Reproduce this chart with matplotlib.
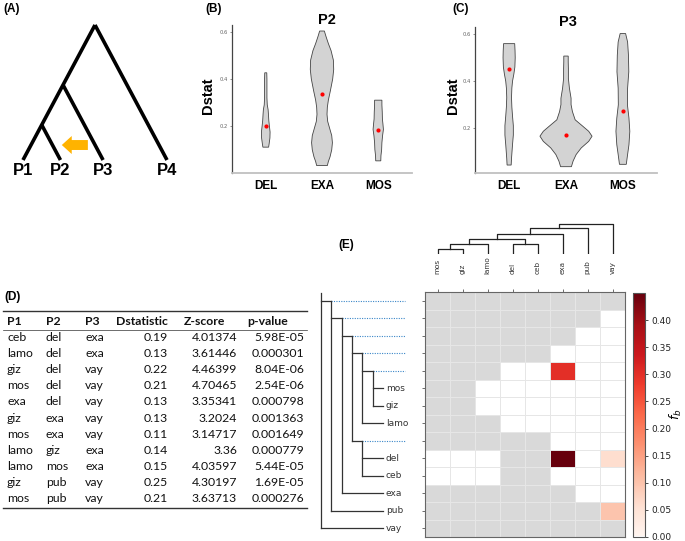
import numpy as np
import matplotlib
matplotlib.use('Agg')
import matplotlib.pyplot as plt
from matplotlib.patches import FancyArrowPatch
from matplotlib.colors import ListedColormap

# ------------------------------------------------------------------ data
# Panel A: schematic four-taxon tree (P1,P2),P3),P4 with node depths
a_taxa = ['P1', 'P2', 'P3', 'P4']
a_depth_p123 = 0.444
a_depth_p12 = 0.74
a_arrow_depth = 0.889

# Panels B, C: violin outlines (Dstat level, half width in category units)
violin_cats = ['DEL', 'EXA', 'MOS']
b_del_y = [0.111, 0.125, 0.15, 0.175, 0.20, 0.225, 0.25, 0.27, 0.29, 0.32, 0.36, 0.40, 0.426]
b_del_w = [0.051, 0.060, 0.074, 0.077, 0.065, 0.054, 0.048, 0.042, 0.027, 0.021, 0.021, 0.021, 0.018]
b_exa_y = [0.033, 0.05, 0.07, 0.10, 0.13, 0.16, 0.19, 0.22, 0.25, 0.28, 0.31, 0.35, 0.40, 0.44, 0.48, 0.52, 0.55, 0.58, 0.603]
b_exa_w = [0.095, 0.113, 0.143, 0.173, 0.185, 0.173, 0.137, 0.101, 0.089, 0.095, 0.113, 0.149, 0.190, 0.208, 0.202, 0.161, 0.113, 0.071, 0.042]
b_mos_y = [0.053, 0.075, 0.10, 0.13, 0.16, 0.186, 0.21, 0.23, 0.26, 0.29, 0.31]
b_mos_w = [0.045, 0.048, 0.060, 0.065, 0.077, 0.092, 0.083, 0.074, 0.071, 0.065, 0.065]
b_means = [0.199, 0.337, 0.183]

c_del_y = [0.042, 0.07, 0.10, 0.13, 0.17, 0.21, 0.25, 0.29, 0.33, 0.37, 0.40, 0.43, 0.46, 0.50, 0.53, 0.56]
c_del_w = [0.036, 0.042, 0.051, 0.060, 0.074, 0.074, 0.060, 0.048, 0.042, 0.048, 0.060, 0.083, 0.101, 0.107, 0.104, 0.098]
c_exa_y = [0.035, 0.059, 0.087, 0.115, 0.143, 0.165, 0.186, 0.207, 0.235, 0.27, 0.30, 0.327, 0.37, 0.412, 0.454, 0.483, 0.507]
c_exa_w = [0.095, 0.125, 0.179, 0.268, 0.399, 0.458, 0.399, 0.298, 0.161, 0.113, 0.089, 0.089, 0.060, 0.042, 0.042, 0.039, 0.039]
c_mos_y = [0.045, 0.087, 0.129, 0.186, 0.242, 0.299, 0.37, 0.44, 0.511, 0.567, 0.603]
c_mos_w = [0.060, 0.083, 0.107, 0.122, 0.107, 0.080, 0.083, 0.104, 0.098, 0.083, 0.048]
c_means = [0.452, 0.172, 0.272]
dstat_ticks = [0.2, 0.4, 0.6]

# Panel D: table
tbl_header = ['P1', 'P2', 'P3', 'Dstatistic', 'Z-score', 'p-value']
tbl_p1 = ['ceb', 'lamo', 'giz', 'mos', 'exa', 'giz', 'mos', 'lamo', 'lamo', 'giz', 'mos']
tbl_p2 = ['del', 'del', 'del', 'del', 'del', 'exa', 'exa', 'giz', 'mos', 'pub', 'pub']
tbl_p3 = ['exa', 'exa', 'vay', 'vay', 'vay', 'vay', 'vay', 'exa', 'exa', 'vay', 'vay']
tbl_d = ['0.19', '0.13', '0.22', '0.21', '0.13', '0.13', '0.11', '0.14', '0.15', '0.25', '0.21']
tbl_z = ['4.01374', '3.61446', '4.46399', '4.70465', '3.35341', '3.2024', '3.14717', '3.36', '4.03597', '4.30197', '3.63713']
tbl_p = ['5.98E-05', '0.000301', '8.04E-06', '2.54E-06', '0.000798', '0.001363', '0.001649', '0.000779', '5.44E-05', '1.69E-05', '0.000276']

# Panel E: f-branch heatmap
fb_cols = ['mos', 'giz', 'lamo', 'del', 'ceb', 'exa', 'pub', 'vay']
fb_tree = ((((((('mos', 'giz'), 'lamo'), ('del', 'ceb')), 'exa'), 'pub'), 'vay'))
N = np.nan
fb_values = [
    [N, N, N, N, N, N, N, N],
    [N, N, N, N, N, N, N, 0],
    [N, N, N, N, N, N, 0, 0],
    [N, N, N, N, N, 0, 0, 0],
    [N, N, N, 0, 0, 0.30, 0, 0],
    [N, N, 0, 0, 0, 0, 0, 0],
    [N, N, 0, 0, 0, 0, 0, 0],
    [N, N, N, 0, 0, 0, 0, 0],
    [N, N, N, N, N, 0, 0, 0],
    [0, 0, 0, N, N, 0.45, 0, 0.06],
    [0, 0, 0, N, N, 0, 0, 0],
    [N, N, N, N, N, N, 0, 0],
    [N, N, N, N, N, N, N, 0.10],
    [N, N, N, N, N, N, N, N],
]
top_links = [('mos', 'giz', 'A', 1.0), ('A', 'lamo', 'B', 2.0), ('del', 'ceb', 'C', 2.0),
             ('B', 'C', 'D', 3.0), ('D', 'exa', 'E', 4.0), ('E', 'pub', 'F', 5.2),
             ('F', 'vay', 'G', 6.0)]
cbar_ticks = [0.00, 0.05, 0.10, 0.15, 0.20, 0.25, 0.30, 0.35, 0.40]

# ------------------------------------------------------------------ figure
W, H = 685, 541
fig = plt.figure(figsize=(W / 100, H / 100), dpi=100)
BOLD = dict(family='Liberation Sans', fontweight='bold')


def px_axes(l, t, r, b):
    return fig.add_axes([l / W, 1 - b / H, (r - l) / W, (b - t) / H])


def ptext(x, y, s, **kw):
    fig.text(x / W, 1 - y / H, s, **kw)


# ---------------- Panel A
ptext(3, 9, '(A)', fontsize=8.5, va='center', ha='left', **BOLD)
axA = px_axes(0, 0, 200, 200)
axA.set_xlim(-95 / 72, 105 / 72)
axA.set_ylim(175 / 135, -25 / 135)
axA.axis('off')
lwA = 2.6
axA.plot([0, -1], [0, 1], color='black', lw=lwA, solid_capstyle='butt')
axA.plot([0, 1], [0, 1], color='black', lw=lwA, solid_capstyle='butt')
p3_x = -a_depth_p123 + (1 - a_depth_p123)
p2_x = -a_depth_p12 + (1 - a_depth_p12)
axA.plot([-a_depth_p123, p3_x], [a_depth_p123, 1], color='black', lw=lwA, solid_capstyle='butt')
axA.plot([-a_depth_p12, p2_x], [a_depth_p12, 1], color='black', lw=lwA, solid_capstyle='butt')
for name, x in zip(a_taxa, [-1, p2_x, p3_x, 1]):
    axA.text(x, 1.075, name, ha='center', va='center', fontsize=12, **BOLD)
ar3 = -a_depth_p123 + (a_arrow_depth - a_depth_p123)
ar2 = -a_depth_p12 + (a_arrow_depth - a_depth_p12)
gap = 0.1
arr = FancyArrowPatch((ar3 - gap, a_arrow_depth), (ar2 + gap * 1.3, a_arrow_depth),
                      arrowstyle='simple,head_length=0.55,head_width=1.0,tail_width=0.55',
                      mutation_scale=13, color='#FFB300', shrinkA=0, shrinkB=0, lw=0)
axA.add_patch(arr)


# ---------------- Panels B and C
def violin_panel(box, title, data, means, ylim, lab, labpos, titlepos, ylabx):
    ax = px_axes(*box)
    for i, (ys, ws) in enumerate(data):
        xc = i + 1
        ys = np.asarray(ys)
        ws = np.asarray(ws)
        xs = np.concatenate([xc - ws, (xc + ws)[::-1]])
        yy = np.concatenate([ys, ys[::-1]])
        ax.fill(xs, yy, facecolor='#D3D3D3', edgecolor='#444444', lw=0.6, zorder=2)
    ax.scatter([1, 2, 3], means, s=9, color='red', zorder=3, linewidths=0)
    ax.set_xlim(0.4, 3.6)
    ax.set_ylim(*ylim)
    ax.set_xticks([1, 2, 3])
    ax.set_xticklabels(violin_cats, fontsize=8.5, **BOLD)
    ax.tick_params(axis='x', length=0, pad=5)
    ax.set_yticks(dstat_ticks)
    ax.set_yticklabels([f'{t:.1f}' for t in dstat_ticks], fontsize=3.8, color='#666666')
    ax.tick_params(axis='y', length=1.5, width=0.5, color='#666666', pad=1.5)
    for s in ['top', 'right']:
        ax.spines[s].set_visible(False)
    ax.spines['left'].set_color('#444444')
    ax.spines['left'].set_linewidth(0.9)
    ax.spines['bottom'].set_color('#c0c0c0')
    ax.spines['bottom'].set_linewidth(1.3)
    ax.patch.set_alpha(0)
    ptext(titlepos[0], titlepos[1], title, fontsize=10.5, ha='center', va='center', **BOLD)
    ptext(ylabx, 96, 'Dstat', fontsize=10.5, ha='center', va='center', rotation=90, **BOLD)
    ptext(labpos[0], labpos[1], lab, fontsize=8.5, ha='left', va='center', **BOLD)
    return ax


violin_panel((232, 25, 412, 173), 'P2',
             [(b_del_y, b_del_w), (b_exa_y, b_exa_w), (b_mos_y, b_mos_w)], b_means,
             (0.0015, 0.6285), '(B)', (205, 9), (327, 19.5), 208)
violin_panel((475, 27, 657, 173), 'P3',
             [(c_del_y, c_del_w), (c_exa_y, c_exa_w), (c_mos_y, c_mos_w)], c_means,
             (0.008, 0.631), '(C)', (452, 9), (568, 22), 453)

# ---------------- Panel D (table)
ptext(4, 297, '(D)', fontsize=8.5, ha='left', va='center', **BOLD)
axD = px_axes(0, 290, 320, 520)
axD.set_xlim(0, 320)
axD.set_ylim(520, 290)
axD.axis('off')
TF = dict(family='Lato', fontsize=8.8, va='center', color='#111111')
y_head = 321.5
row_step = 16.1
y_first = 337.5
axD.plot([3, 307], [310.5, 310.5], color='#333333', lw=1.0)
axD.plot([3, 307], [329.5, 329.5], color='#333333', lw=0.5)
n_rows = len(tbl_p1)
y_bot = y_first + row_step * (n_rows - 1) + 9
axD.plot([3, 307], [y_bot, y_bot], color='#333333', lw=1.0)
col_left = [7, 46, 85]
num_right = [168, 237, 304]
head_left = [None, None, None, None, 184, 247]
for j, h in enumerate(tbl_header):
    if j < 3:
        axD.text(col_left[j], y_head, h, ha='left', fontweight='bold', **TF)
    elif j == 3:
        axD.text(num_right[0], y_head, h, ha='right', fontweight='bold', **TF)
    else:
        axD.text(head_left[j], y_head, h, ha='left', fontweight='bold', **TF)
for i in range(n_rows):
    y = y_first + row_step * i
    for j, col in enumerate([tbl_p1, tbl_p2, tbl_p3]):
        axD.text(col_left[j], y, col[i], ha='left', **TF)
    for j, col in enumerate([tbl_d, tbl_z, tbl_p]):
        axD.text(num_right[j], y, col[i], ha='right', **TF)

# ---------------- Panel E
ptext(338, 245, '(E)', fontsize=8.5, ha='left', va='center', **BOLD)
vals = np.array(fb_values, dtype=float)
nr, nc = vals.shape
vmax = np.nanmax(vals)

reds = plt.cm.Reds(np.linspace(0, 1, 256))
reds[0] = [1, 1, 1, 1]
cmap_fb = ListedColormap(reds)

axE = px_axes(425, 292, 625, 537)
grey_layer = np.where(np.isnan(vals), 1.0, np.nan)
axE.pcolormesh(np.arange(nc + 1), np.arange(nr + 1), np.ma.masked_invalid(grey_layer),
               cmap=ListedColormap(['#d9d9d9']), edgecolors='#a6a6a6', linewidth=0.7)
mesh = axE.pcolormesh(np.arange(nc + 1), np.arange(nr + 1), np.ma.masked_invalid(vals),
                      cmap=cmap_fb, vmin=0, vmax=vmax, edgecolors='#e6e6e6', linewidth=0.7)
axE.set_xlim(0, nc)
axE.set_ylim(nr, 0)
axE.xaxis.tick_top()
axE.set_xticks(np.arange(nc) + 0.5)
axE.set_xticklabels(fb_cols, rotation=90, fontsize=5.2, color='#333333')
axE.set_yticks(np.arange(nr) + 0.5)
axE.set_yticklabels([])
axE.tick_params(axis='x', length=2, width=0.5, pad=11, colors='#333333')
axE.tick_params(axis='y', length=2, width=0.5, colors='#333333')
for s in axE.spines.values():
    s.set_color('#666666')
    s.set_linewidth(0.8)

# colorbar
cax = px_axes(633, 293, 645, 537)
cb = fig.colorbar(mesh, cax=cax, ticks=cbar_ticks)
cb.ax.set_yticklabels([f'{t:.2f}' for t in cbar_ticks], fontsize=6.5, color='#222222')
cb.ax.tick_params(length=2.5, width=0.5, pad=2)
cb.outline.set_edgecolor('#555555')
cb.outline.set_linewidth(0.8)
ptext(676, 414, '$f_b$', fontsize=9, rotation=90, ha='center', va='center')

# left tree (rows: pre-order of internal nodes + leaves)
axT = px_axes(315, 292, 425, 537)
unit = 10.3
axT.set_xlim(-6 / unit, 104 / unit)
axT.set_ylim(nr, 0)
axT.axis('off')
leaf_depth = 6.0
dot_end = 84 / unit
row_counter = [0]
tree_col = '#333333'


def draw_node(node, depth, parent_depth, is_root=False):
    if isinstance(node, str):
        r = row_counter[0] + 0.5
        row_counter[0] += 1
        axT.plot([parent_depth, leaf_depth], [r, r], color=tree_col, lw=0.9)
        axT.text(leaf_depth + 0.3, r, node, fontsize=6.5, color='#333333', va='center', ha='left')
        return r
    if is_root:
        rows = [draw_node(ch, depth + 1, depth) for ch in node]
        first = rows[0]
        axT.plot([depth, depth], [first - 0.45, rows[-1]], color=tree_col, lw=0.9)
        return first
    r = row_counter[0] + 0.5
    row_counter[0] += 1
    axT.plot([parent_depth, depth], [r, r], color=tree_col, lw=0.9)
    axT.plot([depth, dot_end], [r, r], color='#3a86c8', lw=0.8, ls=(0, (1, 1.2)))
    rows = [draw_node(ch, depth + 1, depth) for ch in node]
    axT.plot([depth, depth], [r, rows[-1]], color=tree_col, lw=0.9)
    return r


draw_node(fb_tree, 0.0, 0.0, is_root=True)

# top dendrogram
axD2 = px_axes(425, 218, 625, 254)
axD2.set_xlim(0, nc)
axD2.set_ylim(0, 7.2)
axD2.axis('off')
pos = {name: (i + 0.5, 0.0) for i, name in enumerate(fb_cols)}
for a, b, new, h in top_links:
    xa, ha = pos[a]
    xb, hb = pos[b]
    axD2.plot([xa, xa, xb, xb], [ha, h, h, hb], color='#222222', lw=0.9)
    pos[new] = ((xa + xb) / 2, h)

fig.savefig('out.png', dpi=100)
